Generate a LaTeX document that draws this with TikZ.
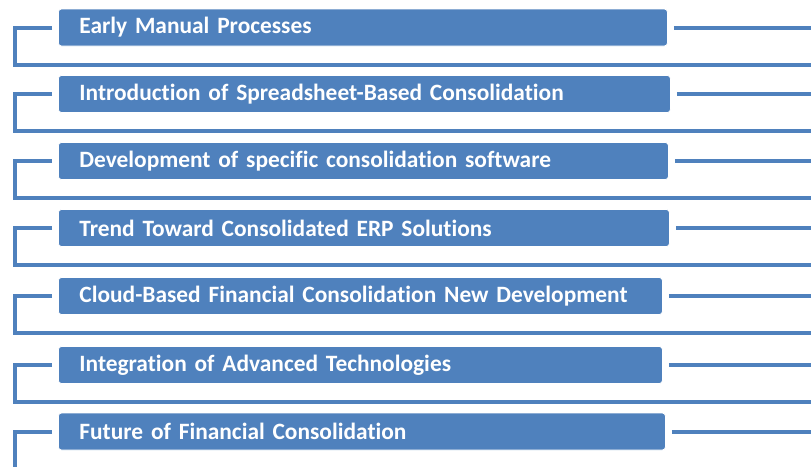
\documentclass[tikz,border=0pt]{standalone}
\usepackage{fontspec}
\setmainfont[Ligatures=NoCommon]{Carlito}
\definecolor{stepblue}{HTML}{4F81BD}
\begin{document}
\begin{tikzpicture}[x=1pt,y=-1pt,
  stage/.style={fill=stepblue, draw=white, line width=0.8pt, rounded corners=3pt,
    anchor=west, minimum height=37pt, inner xsep=21pt, align=left,
    text=white, font=\fontsize{23.4}{26}\selectfont\bfseries},
  link/.style={draw=stepblue, line width=4pt}]
\useasboundingbox (0,0) rectangle (811,466);
\coordinate (edge) at (811,0);

\node[stage, text width=567pt] at (58,27.5) (s1) {Early Manual Processes};
\node[stage, text width=570pt] at (58,94) (s2) {Introduction of Spreadsheet-Based Consolidation};
\node[stage, text width=568pt] at (58,161) (s3) {Development of specific consolidation software};
\node[stage, text width=569pt] at (58,228) (s4) {Trend Toward Consolidated ERP Solutions};
\node[stage, text width=562pt] at (58,296) (s5) {Cloud-Based Financial Consolidation New Development};
\node[stage, text width=562pt] at (58,365) (s6) {Integration of Advanced Technologies};
\node[stage, text width=565pt] at (58,431.5) (s7) {Future of Financial Consolidation};

% bracket on the left, line on the right
\foreach \i in {1,...,7}
{
     \coordinate (l\i) at ([xshift=-6pt]s\i.west);
     \coordinate (r\i) at ([xshift=6pt]s\i.east);
     \draw[link] (r\i) -- (r\i -| edge);
}
\foreach \i in {1,...,6}
{
     \draw[link] (l\i) -- ++(-37,0) -- ++(0,37) -- ++(800,0);
}
\draw[link] (l7) -- ++(-37,0) -- ++(0,40);
\end{tikzpicture}
\end{document}
